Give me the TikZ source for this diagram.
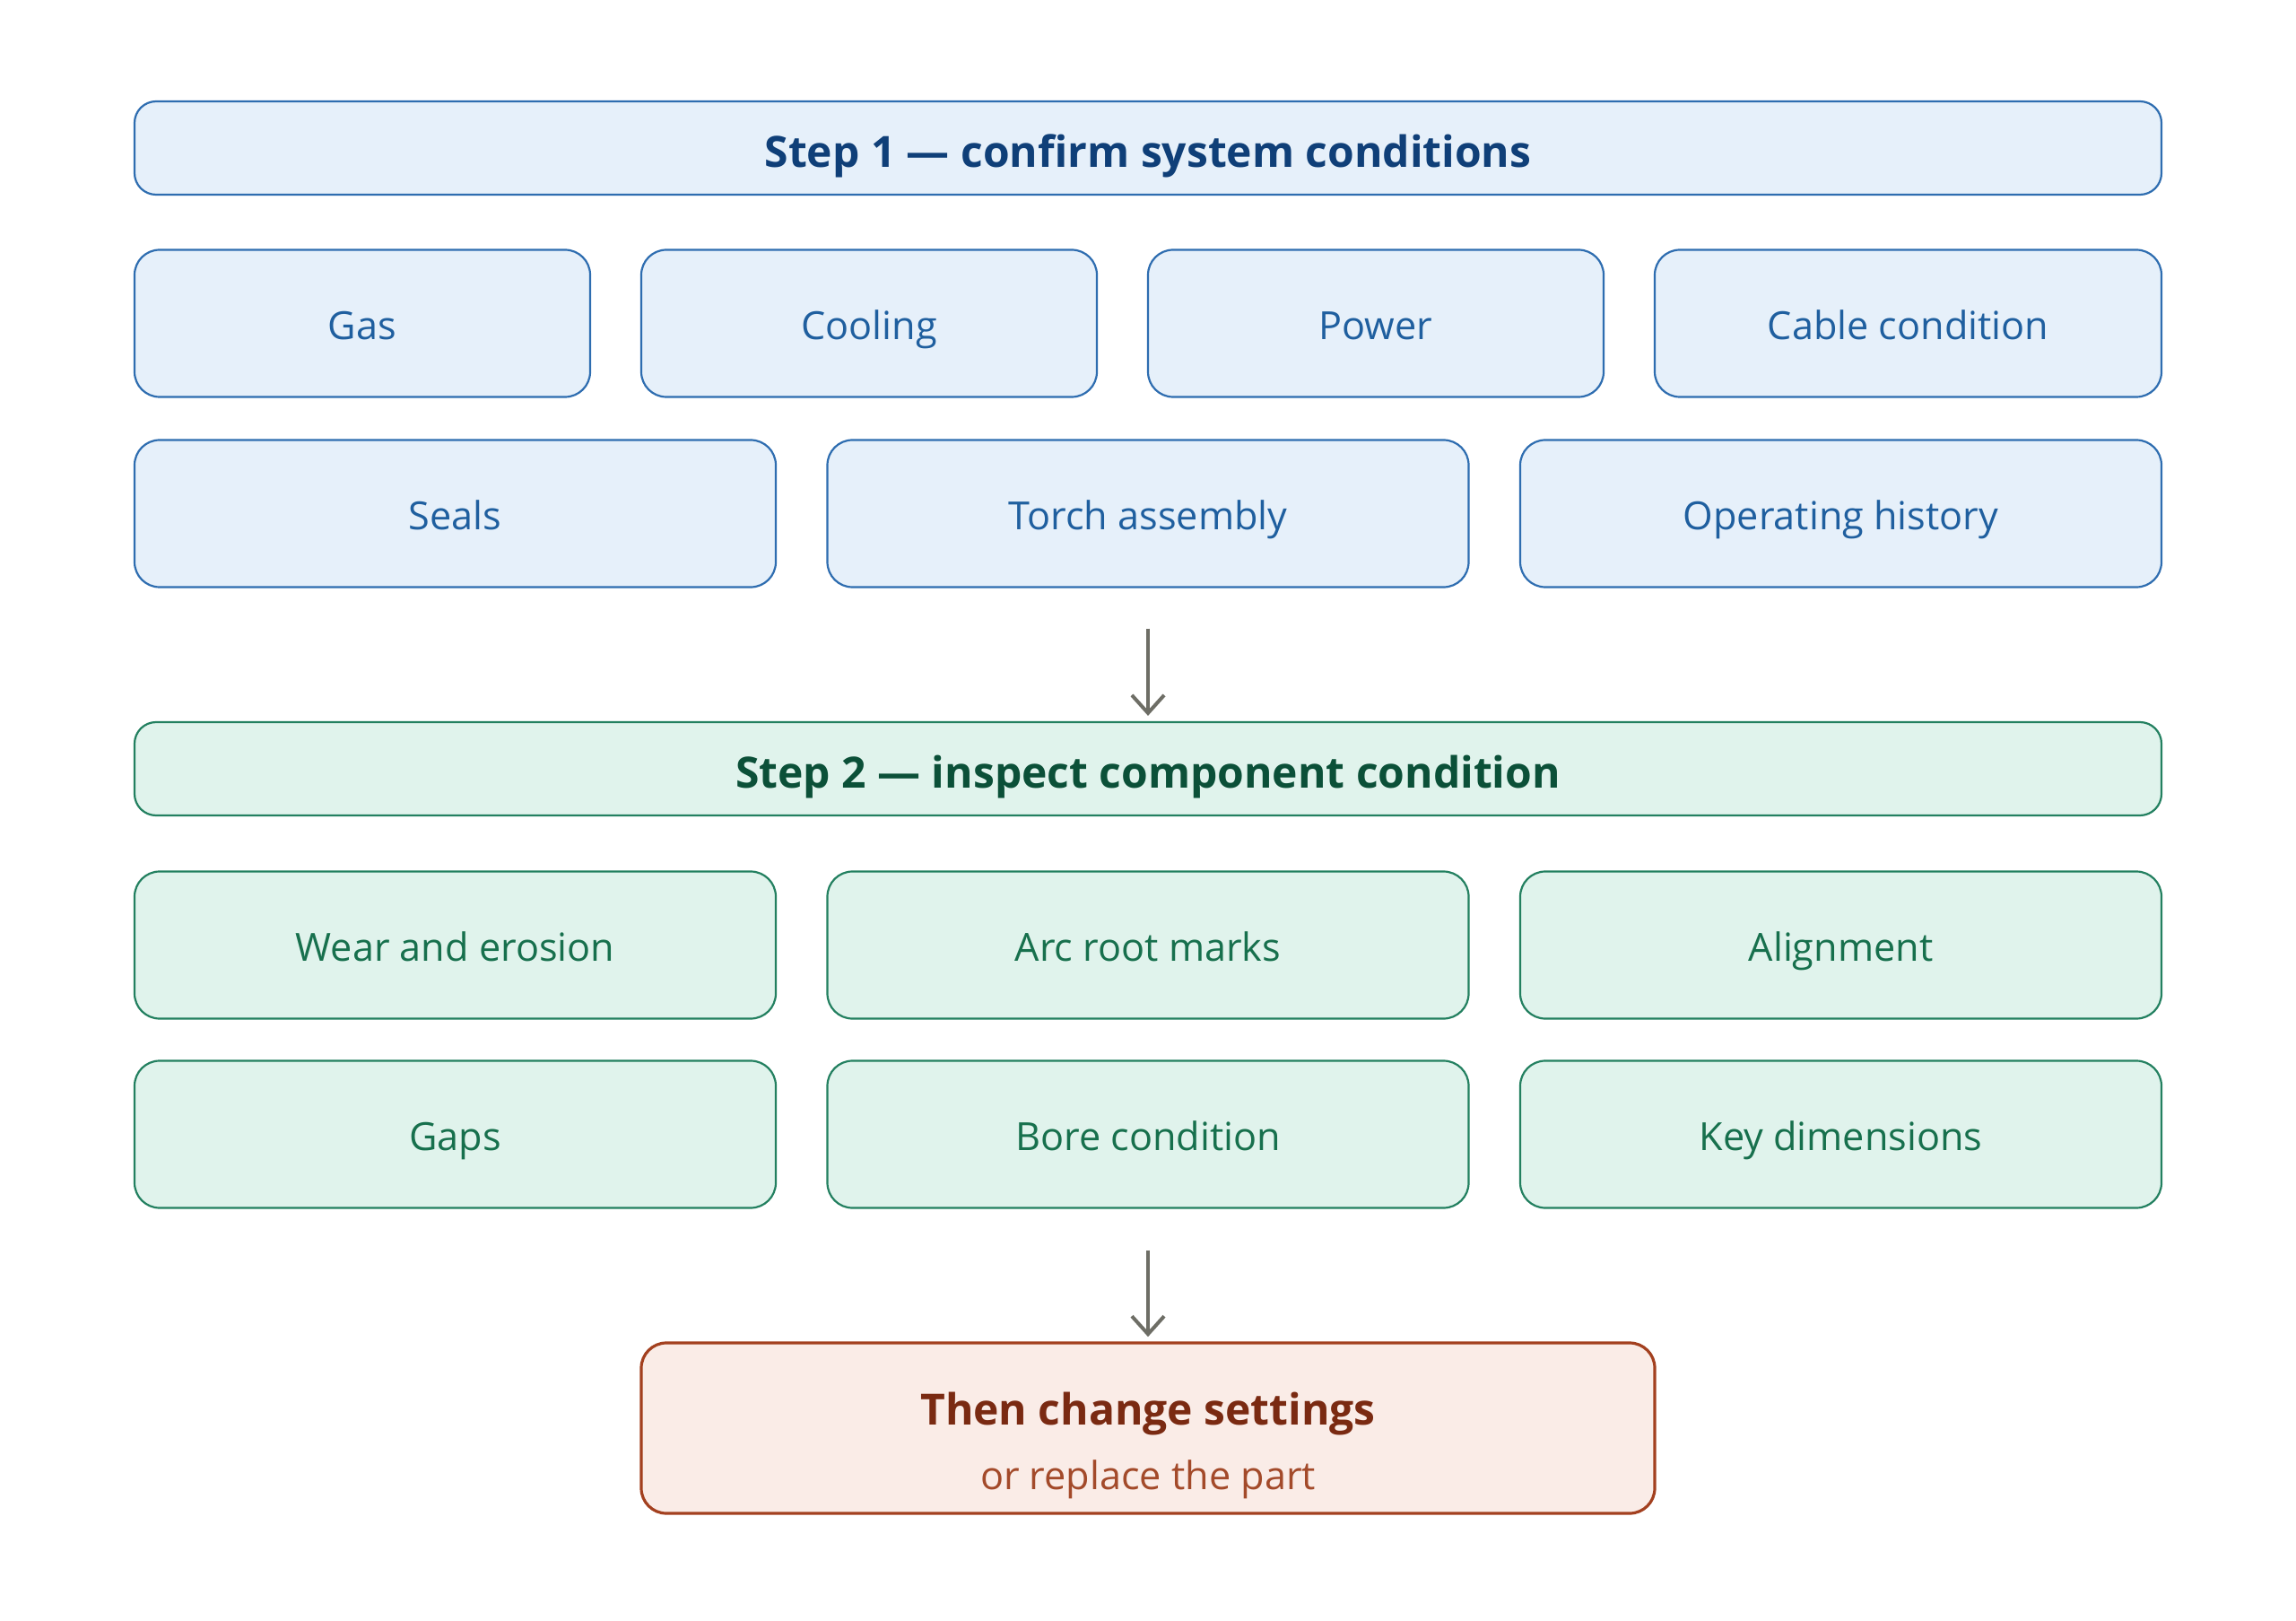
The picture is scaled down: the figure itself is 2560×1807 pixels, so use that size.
\documentclass[tikz,border=0pt]{standalone}
\usepackage{fontspec}
\setmainfont{Open Sans}
\usetikzlibrary{arrows.meta}
\definecolor{bfill}{HTML}{E6F0FA}
\definecolor{bdraw}{HTML}{2E6DB0}
\definecolor{btext}{HTML}{1F5F9F}
\definecolor{bhead}{HTML}{0F3F78}
\definecolor{gfill}{HTML}{E0F3EC}
\definecolor{gdraw}{HTML}{238060}
\definecolor{gtext}{HTML}{17704D}
\definecolor{ghead}{HTML}{0B5038}
\definecolor{rfill}{HTML}{FAECE7}
\definecolor{rdraw}{HTML}{A3401F}
\definecolor{rtext}{HTML}{7A2A12}
\definecolor{rsub}{HTML}{A34A2A}
\definecolor{arrc}{HTML}{6E6E66}
\tikzset{
  base/.style={rounded corners=7pt, line width=0.55pt, inner sep=0pt, align=center, text height=0.95em, text depth=0.07em},
  hfont/.style={font=\fontsize{12}{15}\selectfont\bfseries},
  bhdr/.style={base, hfont, fill=bfill, draw=bdraw, text=bhead, minimum width=565pt, minimum height=26pt, rounded corners=6pt, text height=1.16em},
  ghdr/.style={base, hfont, fill=gfill, draw=gdraw, text=ghead, minimum width=565pt, minimum height=26pt, rounded corners=6pt, text height=1.16em},
  bbox/.style={base, fill=bfill, draw=bdraw, text=btext, font=\fontsize{10.8}{13}\selectfont, minimum height=41pt},
  gbox/.style={base, fill=gfill, draw=gdraw, text=gtext, font=\fontsize{10.8}{13}\selectfont, minimum height=41pt},
  fbox/.style={rounded corners=7pt, inner sep=0pt, fill=rfill, draw=rdraw, line width=0.8pt, minimum width=282.5pt, minimum height=47.5pt},
  arr/.style={draw=arrc, line width=1pt, -{Straight Barb[length=5pt, width=9pt, line width=1pt]}},
}
\begin{document}
\begin{tikzpicture}[x=0.25pt, y=-0.25pt]
\useasboundingbox (0,0) rectangle (2560,1807);
\fill[white] (0,0) rectangle (2560,1807);
% Step 1
\node[bhdr] (s1) at (1280,165) {Step 1 — confirm system conditions};
\node[bbox, minimum width=127pt] (gas) at (404,360.5) {Gas};
\node[bbox, minimum width=127pt] (cool) at (969,360.5) {Cooling};
\node[bbox, minimum width=127pt] (power) at (1534,360.5) {Power};
\node[bbox, minimum width=141.25pt] (cable) at (2127.5,360.5) {Cable condition};
\node[bbox, minimum width=178.75pt] (seals) at (507.5,572.5) {Seals};
\node[bbox, minimum width=178.75pt] (torch) at (1280,572.5) {Torch assembly};
\node[bbox, minimum width=178.75pt] (hist) at (2052.5,572.5) {Operating history};
% Step 2
\node[ghdr] (s2) at (1280,857) {Step 2 — inspect component condition};
\node[gbox, minimum width=178.75pt] (wear) at (507.5,1053.5) {Wear and erosion};
\node[gbox, minimum width=178.75pt] (arc) at (1280,1053.5) {Arc root marks};
\node[gbox, minimum width=178.75pt] (align) at (2052.5,1053.5) {Alignment};
\node[gbox, minimum width=178.75pt] (gaps) at (507.5,1264.5) {Gaps};
\node[gbox, minimum width=178.75pt] (bore) at (1280,1264.5) {Bore condition};
\node[gbox, minimum width=178.75pt] (keyd) at (2052.5,1264.5) {Key dimensions};
% Final
\node[fbox] (fin) at (1280,1592) {};
\node[text=rtext, hfont, inner sep=0pt, anchor=base] (fint) at (1280,1588) {Then change settings};
\node[text=rsub, font=\fontsize{10.8}{13}\selectfont, inner sep=0pt, anchor=base] (fins) at (1280,1660) {or replace the part};
% Arrows
\draw[arr, shorten <=11.25pt, shorten >=1.5pt] (torch.south) -- (s2.north);
\draw[arr, shorten <=11.5pt, shorten >=1.3pt] (bore.south) -- (fin.north);
\end{tikzpicture}
\end{document}
